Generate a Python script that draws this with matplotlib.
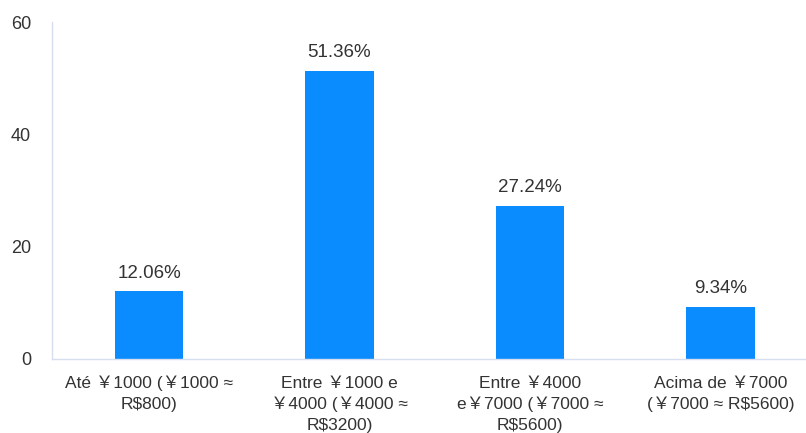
import matplotlib.pyplot as plt

plt.rcParams['font.family'] = ['Liberation Sans', 'Noto Sans CJK SC', 'DejaVu Sans']

categories = [
    "Até ￥1000 (￥1000 ≈\nR$800)",
    "Entre ￥1000 e\n￥4000 (￥4000 ≈\nR$3200)",
    "Entre ￥4000\ne￥7000 (￥7000 ≈\nR$5600)",
    "Acima de ￥7000\n(￥7000 ≈ R$5600)",
]
values = [12.06, 51.36, 27.24, 9.34]
value_labels = ["12.06%", "51.36%", "27.24%", "9.34%"]
yticks = [0, 20, 40, 60]

fig = plt.figure(figsize=(8.06, 4.33), dpi=100)
ax = fig.add_axes([0.0645, 0.171, 0.9355, 0.778])

x = list(range(len(categories)))
bars = ax.bar(x, values, width=0.36, color="#0a8cff")
for xi, v, lab in zip(x, values, value_labels):
    ax.text(xi, v + 1.7, lab, ha="center", va="bottom", fontsize=13.5, color="#333333")

ax.set_xlim(-0.51, 3.45)
ax.set_ylim(0, 60)
ax.set_yticks(yticks)
ax.set_xticks(x)
ax.set_xticklabels(categories, fontsize=12.5, color="#333333", linespacing=1.5)
ax.tick_params(axis="y", length=0, labelsize=13, labelcolor="#333333", pad=15)
ax.tick_params(axis="x", length=0, pad=12)

for side in ["top", "right"]:
    ax.spines[side].set_visible(False)
for side in ["left", "bottom"]:
    ax.spines[side].set_color("#d6def0")
    ax.spines[side].set_linewidth(1)

fig.savefig("out.png", dpi=100)
